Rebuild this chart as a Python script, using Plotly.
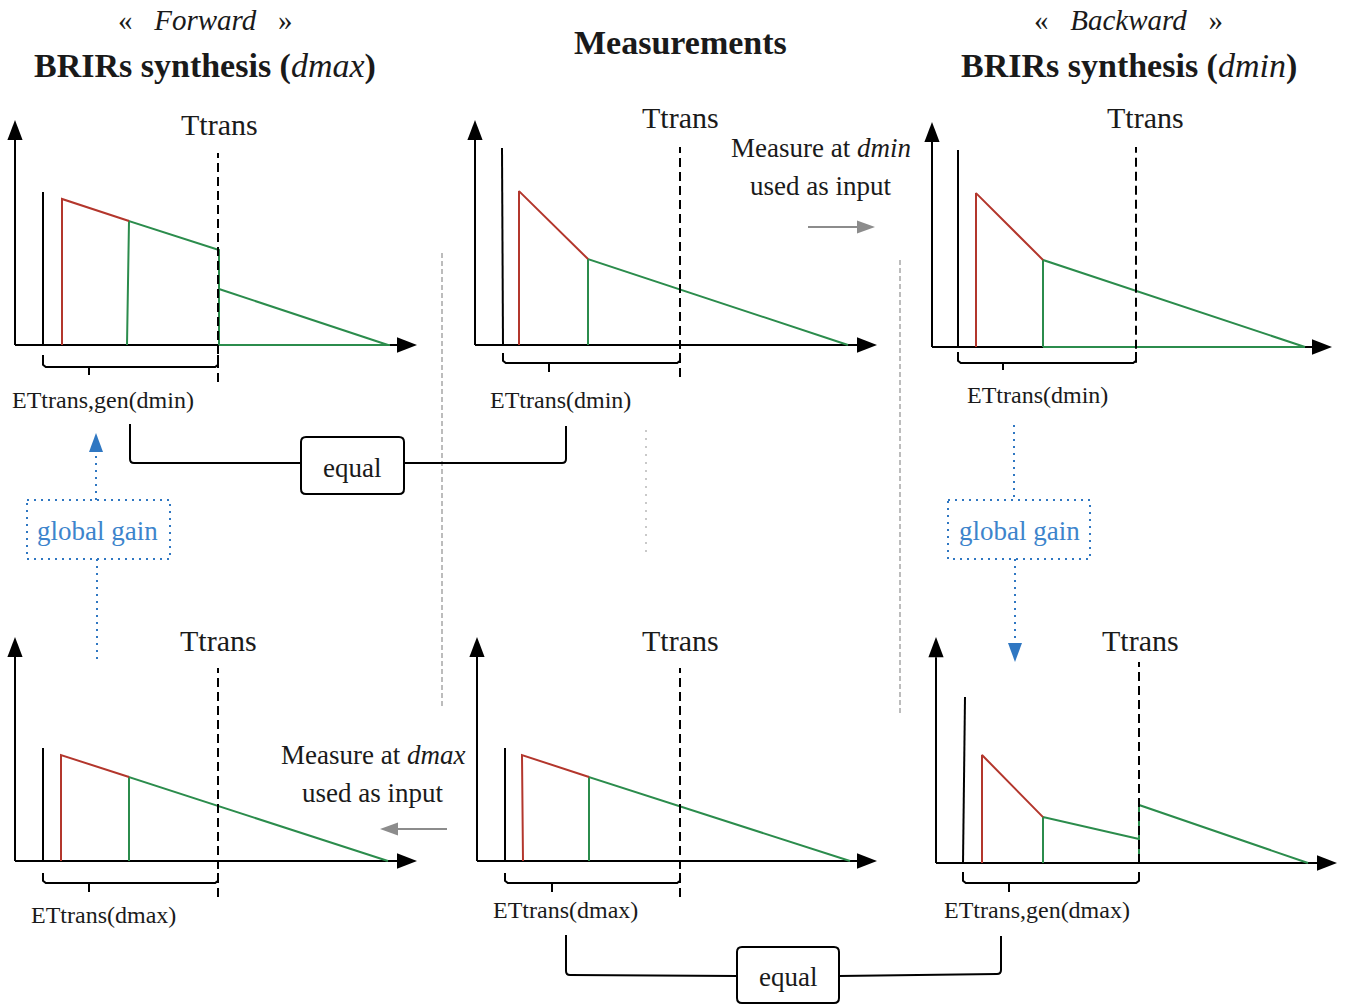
import plotly.graph_objects as go

# ---------------- canvas / scale (layout only) ----------------
W, H = 1348, 1006
SX, SY = 4.0, 2.25          # pixels per time unit / per level unit
XR = [-3, 102]              # panel time range
YR = [-28, 108]             # panel level range

FONT = "Liberation Serif"
INK = "#1a1a1a"
RED = "#b3362c"
GREEN = "#2b8c4c"
BLUE = "#2f77c2"
BLUE_TXT = "#3d84cc"
GRAY = "#8c8c8c"
SEP = "#a6a6a6"

# ---------------- data: energy envelopes (time units, level units) ----------------
# Forward synthesis, generated at dmin (top-left)
fwd_dmin_direct_t = [7.0, 7.0]
fwd_dmin_direct_l = [0, 68.0]
fwd_dmin_early_t = [11.75, 11.75, 28.5]
fwd_dmin_early_l = [0, 64.9, 55.1]
fwd_dmin_late_t = [28.0, 28.5, 51.0, 51.0, None, 51.0, 93.25, None, 51.0, 93.75]
fwd_dmin_late_l = [0, 55.1, 42.2, 0, None, 24.9, 0, None, 0, 0]
fwd_dmin_ttrans = 50.75

# Measurement at dmin (top-middle)
meas_dmin_direct_t = [7.0, 6.75]
meas_dmin_direct_l = [0, 87.6]
meas_dmin_early_t = [11.0, 11.0, 28.25]
meas_dmin_early_l = [0, 68.4, 38.2]
meas_dmin_late_t = [28.25, 28.25, 93.25]
meas_dmin_late_l = [0, 38.2, 0]
meas_dmin_ttrans = 51.25

# Backward synthesis at dmin (top-right) = measurement at dmin used as input
bwd_dmin_direct_t = [6.5, 6.5]
bwd_dmin_direct_l = [0, 87.6]
bwd_dmin_early_t = [11.0, 11.0, 27.75]
bwd_dmin_early_l = [0, 68.4, 38.7]
bwd_dmin_late_t = [27.75, 27.75, 93.25, None, 27.75, 93.25]
bwd_dmin_late_l = [0, 38.7, 0, None, 0, 0]
bwd_dmin_ttrans = 51.0

# Forward synthesis at dmax (bottom-left) = measurement at dmax used as input
fwd_dmax_direct_t = [7.0, 7.0]
fwd_dmax_direct_l = [0, 50.2]
fwd_dmax_early_t = [11.5, 11.5, 28.5]
fwd_dmax_early_l = [0, 47.1, 37.3]
fwd_dmax_late_t = [28.5, 28.5, 93.25]
fwd_dmax_late_l = [0, 37.3, 0]
fwd_dmax_ttrans = 50.75

# Measurement at dmax (bottom-middle)
meas_dmax_direct_t = [7.0, 7.0]
meas_dmax_direct_l = [0, 50.2]
meas_dmax_early_t = [11.5, 11.25, 28.0]
meas_dmax_early_l = [0, 47.1, 37.3]
meas_dmax_late_t = [28.0, 28.0, 93.25]
meas_dmax_late_l = [0, 37.3, 0]
meas_dmax_ttrans = 50.75

# Backward synthesis, generated at dmax (bottom-right)
bwd_dmax_direct_t = [6.75, 7.25]
bwd_dmax_direct_l = [0, 73.8]
bwd_dmax_early_t = [11.5, 11.5, 26.75]
bwd_dmax_early_l = [0, 48.0, 20.4]
bwd_dmax_late_t = [26.75, 26.75, 50.75, None, 50.75, 50.75, 93.0]
bwd_dmax_late_l = [0, 20.4, 10.7, None, 0, 25.8, 0]
bwd_dmax_ttrans = 50.75

# labels
ttrans_label = "Ttrans"
et_labels = ["ETtrans,gen(dmin)", "ETtrans(dmin)", "ETtrans(dmin)",
             "ETtrans(dmax)", "ETtrans(dmax)", "ETtrans,gen(dmax)"]

# ---------------- panel layout (positions only) ----------------
panels = [
    dict(origin=(15, 345), tip=(100.5, 100.0),
         direct=(fwd_dmin_direct_t, fwd_dmin_direct_l), early=(fwd_dmin_early_t, fwd_dmin_early_l),
         late=(fwd_dmin_late_t, fwd_dmin_late_l), ttrans=fwd_dmin_ttrans, dash=(-16.4, 85.3),
         brace=(-4.4, -9.8, -13.3, 18.5), tlab=(51.0, 97.8), elab=(22.0, -24.4), label=et_labels[0]),
    dict(origin=(475, 345), tip=(100.5, 100.0),
         direct=(meas_dmin_direct_t, meas_dmin_direct_l), early=(meas_dmin_early_t, meas_dmin_early_l),
         late=(meas_dmin_late_t, meas_dmin_late_l), ttrans=meas_dmin_ttrans, dash=(-14.2, 88.0),
         brace=(-3.6, -8.0, -12.0, 18.5), tlab=(51.25, 100.9), elab=(21.25, -24.4), label=et_labels[1]),
    dict(origin=(932, 347), tip=(100.0, 100.0),
         direct=(bwd_dmin_direct_t, bwd_dmin_direct_l), early=(bwd_dmin_early_t, bwd_dmin_early_l),
         late=(bwd_dmin_late_t, bwd_dmin_late_l), ttrans=bwd_dmin_ttrans, dash=(-7.0, 88.9),
         brace=(-2.2, -7.1, -10.2, 17.75), tlab=(53.25, 102.0), elab=(26.25, -21.3), label=et_labels[2]),
    dict(origin=(15, 861), tip=(100.5, 99.6),
         direct=(fwd_dmax_direct_t, fwd_dmax_direct_l), early=(fwd_dmax_early_t, fwd_dmax_early_l),
         late=(fwd_dmax_late_t, fwd_dmax_late_l), ttrans=fwd_dmax_ttrans, dash=(-16.0, 85.8),
         brace=(-5.3, -9.8, -13.8, 18.5), tlab=(50.75, 98.2), elab=(22.0, -24.0), label=et_labels[3]),
    dict(origin=(477, 861), tip=(100.0, 99.6),
         direct=(meas_dmax_direct_t, meas_dmax_direct_l), early=(meas_dmax_early_t, meas_dmax_early_l),
         late=(meas_dmax_late_t, meas_dmax_late_l), ttrans=meas_dmax_ttrans, dash=(-16.0, 85.8),
         brace=(-5.3, -9.8, -13.8, 18.75), tlab=(50.75, 98.2), elab=(22.0, -21.8), label=et_labels[4]),
    dict(origin=(936, 863), tip=(100.25, 100.4),
         direct=(bwd_dmax_direct_t, bwd_dmax_direct_l), early=(bwd_dmax_early_t, bwd_dmax_early_l),
         late=(bwd_dmax_late_t, bwd_dmax_late_l), ttrans=bwd_dmax_ttrans, dash=(0.0, 89.3),
         brace=(-4.0, -8.9, -12.9, 18.25), tlab=(51.0, 99.1), elab=(25.25, -20.9), label=et_labels[5]),
]

fig = go.Figure()
layout = {}
annotations = []
shapes = []

HX_LEN, HX_HW = 5.0, 3.4     # x-axis arrowhead (units)
HY_LEN, HY_HW = 8.9, 1.9     # y-axis arrowhead (units)

for i, p in enumerate(panels, start=1):
    k = "" if i == 1 else str(i)
    xr, yr = f"x{k}", f"y{k}"
    ox, oy = p["origin"]
    layout[f"xaxis{k}"] = dict(domain=[(ox + XR[0] * SX) / W, (ox + XR[1] * SX) / W],
                               range=XR, visible=False, anchor=yr, fixedrange=True)
    layout[f"yaxis{k}"] = dict(domain=[1 - (oy - YR[0] * SY) / H, 1 - (oy - YR[1] * SY) / H],
                               range=YR, visible=False, anchor=xr, fixedrange=True)
    tx, ty = p["tip"]
    # axes
    fig.add_trace(go.Scatter(x=[0, tx - HX_LEN, None, 0, 0], y=[0, 0, None, 0, ty - HY_LEN],
                             mode="lines", line=dict(color="black", width=2),
                             xaxis=xr, yaxis=yr, hoverinfo="skip"))
    fig.add_trace(go.Scatter(x=[tx, tx - HX_LEN, tx - HX_LEN, tx], y=[0, HX_HW, -HX_HW, 0],
                             mode="lines", fill="toself", fillcolor="black", line=dict(width=0),
                             xaxis=xr, yaxis=yr, hoverinfo="skip"))
    fig.add_trace(go.Scatter(x=[0, -HY_HW, HY_HW, 0], y=[ty, ty - HY_LEN, ty - HY_LEN, ty],
                             mode="lines", fill="toself", fillcolor="black", line=dict(width=0),
                             xaxis=xr, yaxis=yr, hoverinfo="skip"))
    # envelopes
    fig.add_trace(go.Scatter(x=p["direct"][0], y=p["direct"][1], mode="lines",
                             line=dict(color="black", width=2), xaxis=xr, yaxis=yr, hoverinfo="skip"))
    fig.add_trace(go.Scatter(x=p["late"][0], y=p["late"][1], mode="lines",
                             line=dict(color=GREEN, width=2), xaxis=xr, yaxis=yr, hoverinfo="skip"))
    fig.add_trace(go.Scatter(x=p["early"][0], y=p["early"][1], mode="lines",
                             line=dict(color=RED, width=2), xaxis=xr, yaxis=yr, hoverinfo="skip"))
    # transition time
    tt = p["ttrans"]
    fig.add_trace(go.Scatter(x=[tt, tt], y=list(p["dash"]), mode="lines",
                             line=dict(color="black", width=2, dash="9px,5px"),
                             xaxis=xr, yaxis=yr, hoverinfo="skip"))
    # brace
    top, bar, tick, tc = p["brace"]
    t0 = p["direct"][0][0]
    bx = [t0, t0, t0 + 0.7, tt - 0.7, tt, tt, None, tc, tc]
    by = [top, bar + 1.0, bar, bar, bar + 1.0, top, None, bar, tick]
    fig.add_trace(go.Scatter(x=bx, y=by, mode="lines", line=dict(color="black", width=2),
                             xaxis=xr, yaxis=yr, hoverinfo="skip"))
    annotations.append(dict(x=p["tlab"][0], y=p["tlab"][1], xref=xr, yref=yr, text=ttrans_label,
                            showarrow=False, font=dict(family=FONT, size=30, color=INK)))
    annotations.append(dict(x=p["elab"][0], y=p["elab"][1], xref=xr, yref=yr, text=p["label"],
                            showarrow=False, font=dict(family=FONT, size=24, color=INK)))

# ---------------- overlay canvas for connectors / titles ----------------
OX, OY = "x7", "y7"
layout["xaxis7"] = dict(domain=[0, 1], range=[0, W], visible=False, anchor="y7", fixedrange=True)
layout["yaxis7"] = dict(domain=[0, 1], range=[H, 0], visible=False, anchor="x7", fixedrange=True)
fig.add_trace(go.Scatter(x=[0], y=[0], mode="markers", marker=dict(opacity=0),
                         xaxis=OX, yaxis=OY, hoverinfo="skip"))


def add_path(path, color="black", width=2, dash=None, fill=None):
    shapes.append(dict(type="path", path=path, xref=OX, yref=OY,
                       line=dict(color=color, width=width, dash=dash),
                       fillcolor=fill if fill else "rgba(0,0,0,0)"))


def tri(pts, color):
    add_path("M " + " L ".join(f"{x},{y}" for x, y in pts) + " Z", color=color, width=0, fill=color)


def rrect(x0, y0, x1, y1, r=5):
    return (f"M {x0+r},{y0} L {x1-r},{y0} Q {x1},{y0} {x1},{y0+r} L {x1},{y1-r} "
            f"Q {x1},{y1} {x1-r},{y1} L {x0+r},{y1} Q {x0},{y1} {x0},{y1-r} "
            f"L {x0},{y0+r} Q {x0},{y0} {x0+r},{y0} Z")


def text(x, y, s, size=26, color=INK):
    annotations.append(dict(x=x, y=y, xref=OX, yref=OY, text=s, showarrow=False,
                            font=dict(family=FONT, size=size, color=color)))


# titles
text(205, 20, "«\u2002 <i>Forward</i> \u2002»", size=29)
text(205, 66, "<b>BRIRs synthesis (</b><i>dmax</i><b>)</b>", size=34)
text(680, 42, "<b>Measurements</b>", size=34)
text(1128, 20, "«\u2002 <i>Backward</i> \u2002»", size=29)
text(1129, 66, "<b>BRIRs synthesis (</b><i>dmin</i><b>)</b>", size=34)

# measurement inputs
text(821, 148, "Measure at <i>dmin</i>", size=27)
text(820, 186, "used as input", size=27)
text(373, 755, "Measure at <i>dmax</i>", size=27)
text(372, 793, "used as input", size=27)
add_path("M 808,227 L 858,227", color=GRAY, width=2)
tri([(875, 227), (857, 220.5), (857, 233.5)], GRAY)
add_path("M 447,829 L 397,829", color=GRAY, width=2)
tri([(380, 829), (398, 822.5), (398, 835.5)], GRAY)

# separators
add_path("M 442,253 L 442,708", color=SEP, width=1.5, dash="5px,3px")
add_path("M 900,260 L 900,713", color=SEP, width=1.5, dash="5px,3px")
add_path("M 646,430 L 646,553", color="#b8b8b8", width=1.5, dash="2px,6px")

# equal boxes and connectors
add_path("M 130,424 L 130,459 Q 130,463 134,463 L 301,463")
add_path("M 404,463 L 562,463 Q 566,463 566,459 L 566,426")
add_path(rrect(301, 437, 404, 494))
text(352, 468, "equal", size=27)
add_path("M 566,935 L 566,971 Q 566,975 570,975 L 737,976")
add_path("M 839,976 L 997,974 Q 1001,974 1001,970 L 1001,936")
add_path(rrect(737, 947, 839, 1003))
text(788, 977, "equal", size=27)

# global gain boxes
for (bx0, bx1) in [(27, 170), (948, 1090)]:
    shapes.append(dict(type="rect", x0=bx0, x1=bx1, y0=500, y1=559, xref=OX, yref=OY,
                       line=dict(color=BLUE, width=2, dash="2px,5px")))
text(97, 531, "global gain", size=27, color=BLUE_TXT)
text(1019, 531, "global gain", size=27, color=BLUE_TXT)
add_path("M 96,500 L 96,452", color=BLUE, width=2, dash="2px,5px")
tri([(96, 433), (89, 452), (103, 452)], BLUE)
add_path("M 97,559 L 97,662", color=BLUE, width=2, dash="2px,5px")
add_path("M 1014,425 L 1014,500", color=BLUE, width=2, dash="2px,5px")
add_path("M 1015,559 L 1015,643", color=BLUE, width=2, dash="2px,5px")
tri([(1015, 662), (1008, 643), (1022, 643)], BLUE)

fig.update_layout(
    width=W, height=H, margin=dict(l=0, r=0, t=0, b=0),
    paper_bgcolor="white", plot_bgcolor="rgba(0,0,0,0)", showlegend=False,
    annotations=annotations, shapes=shapes, **layout,
)

fig.write_html("out.html", config={"displayModeBar": False, "staticPlot": True},
               post_script="document.body.style.margin='0';")
